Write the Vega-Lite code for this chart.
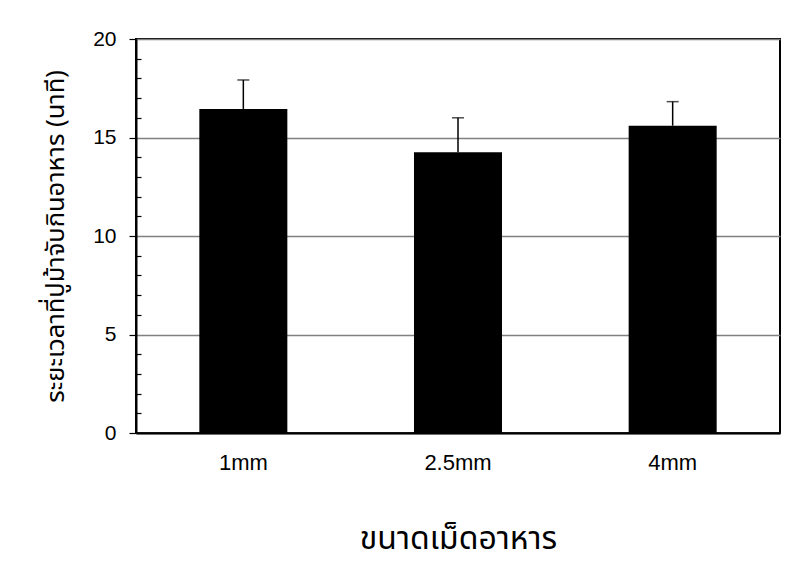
{
  "$schema": "https://vega.github.io/schema/vega-lite/v6.json",
  "autosize": {"type": "none"},
  "width": 644,
  "height": 394,
  "padding": {"left": 136, "top": 39, "right": 18, "bottom": 136},
  "background": "white",
  "config": {
    "view": {"stroke": "black", "strokeWidth": 2},
    "font": "Liberation Sans"
  },
  "data": {
    "values": [
      {"size": "1mm", "mean": 16.45, "upper": 17.92},
      {"size": "2.5mm", "mean": 14.25, "upper": 16.0},
      {"size": "4mm", "mean": 15.6, "upper": 16.82}
    ]
  },
  "resolve": {"axis": {"y": "independent"}},
  "layer": [
    {
      "mark": {"type": "bar", "color": "black"},
      "encoding": {
        "x": {
          "field": "size", "type": "nominal", "sort": null,
          "scale": {"paddingInner": 0.59, "paddingOuter": 0.295},
          "axis": {
            "title": "ขนาดเม็ดอาหาร",
            "titleFont": "Noto Sans Thai, sans-serif",
            "titleFontSize": 32,
            "titleFontWeight": "normal",
            "titleColor": "black",
            "titlePadding": 50,
            "labelAngle": 0,
            "labelFontSize": 22,
            "labelColor": "black",
            "labelPadding": 19,
            "ticks": false,
            "domainColor": "black",
            "domainWidth": 2,
            "grid": false
          }
        },
        "y": {
          "field": "mean", "type": "quantitative",
          "scale": {"domain": [0, 20], "nice": false},
          "axis": {
            "orient": "left",
            "values": [0, 5, 10, 15, 20],
            "title": "ระยะเวลาที่ปูม้าจับกินอาหาร (นาที)",
            "titleFont": "Noto Sans Thai, sans-serif",
            "titleFontSize": 25.5,
            "titleFontWeight": "normal",
            "titleColor": "black",
            "titlePadding": 24,
            "labelFontSize": 21,
            "labelColor": "black",
            "labelPadding": 13,
            "tickSize": 7,
            "tickColor": "black",
            "tickWidth": 1.2,
            "domainColor": "black",
            "domainWidth": 2,
            "grid": true,
            "gridColor": "#808080",
            "gridWidth": 1.3,
            "gridOpacity": 1
          }
        }
      }
    },
    {
      "mark": {"type": "rule", "color": "black", "strokeWidth": 1.5},
      "encoding": {
        "x": {"field": "size", "type": "nominal", "sort": null},
        "y": {
          "field": "mean", "type": "quantitative",
          "axis": {
            "orient": "left",
            "values": [1, 2, 3, 4, 6, 7, 8, 9, 11, 12, 13, 14, 16, 17, 18, 19],
            "labels": false,
            "title": null,
            "domain": false,
            "grid": false,
            "tickSize": -5,
            "tickColor": "black",
            "tickWidth": 1.2
          }
        },
        "y2": {"field": "upper"}
      }
    },
    {
      "mark": {"type": "tick", "color": "black", "thickness": 1.5, "size": 12},
      "encoding": {
        "x": {"field": "size", "type": "nominal", "sort": null},
        "y": {"field": "upper", "type": "quantitative", "axis": null}
      }
    }
  ]
}
